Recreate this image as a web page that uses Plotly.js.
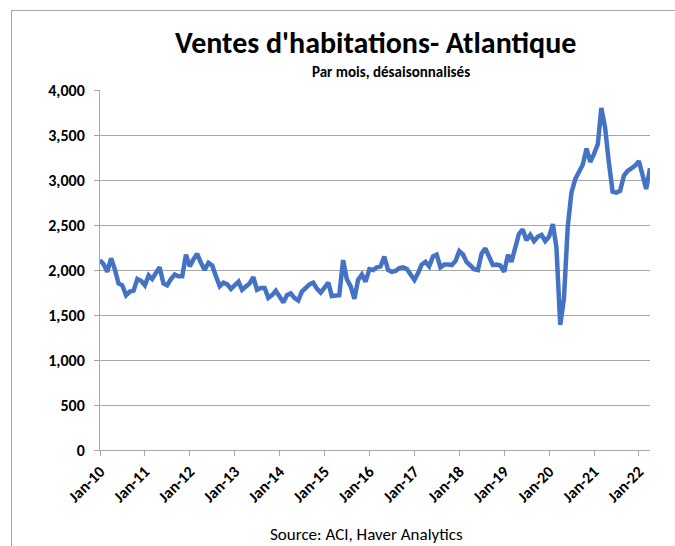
<!DOCTYPE html>
<html>
<head>
<meta charset="utf-8">
<script src="https://cdn.plot.ly/plotly-3.0.1.min.js"></script>
<style>
  html, body { margin: 0; padding: 0; background: #ffffff; }
  #wrap { position: relative; width: 675px; height: 546px; overflow: hidden; }
  #chart { position: absolute; left: 0; top: 0; width: 675px; height: 546px; }
  #frame { position: absolute; left: 11px; top: 10px; width: 700px; height: 600px;
           border-left: 1px solid #a6a6a6; border-top: 1px solid #a6a6a6; pointer-events: none; }
</style>
</head>
<body>
<div id="wrap">
  <div id="chart"></div>
  <div id="frame"></div>
</div>
<script>
// Monthly home sales, seasonally adjusted (Atlantic), Jan-2010 .. Apr-2022
const startYear = 2010;
const sales2010 = [2110, 2060, 1980, 2130, 2010, 1850, 1830, 1720, 1760, 1770, 1900, 1880];
const sales2011 = [1830, 1940, 1900, 1960, 2030, 1850, 1830, 1900, 1950, 1930, 1930, 2170];
const sales2012 = [2040, 2120, 2180, 2080, 2000, 2080, 2050, 1930, 1820, 1860, 1840, 1790];
const sales2013 = [1830, 1870, 1780, 1810, 1850, 1920, 1780, 1800, 1800, 1690, 1720, 1770];
const sales2014 = [1700, 1640, 1720, 1740, 1690, 1660, 1760, 1800, 1840, 1860, 1790, 1750];
const sales2015 = [1800, 1860, 1710, 1720, 1720, 2110, 1900, 1820, 1680, 1890, 1950, 1870];
const sales2016 = [2010, 2000, 2030, 2040, 2150, 2000, 1980, 1990, 2020, 2030, 2010, 1950];
const sales2017 = [1890, 1970, 2060, 2090, 2040, 2150, 2170, 2030, 2060, 2060, 2055, 2100];
const sales2018 = [2210, 2170, 2090, 2050, 2010, 2000, 2180, 2240, 2130, 2055, 2060, 2050];
const sales2019 = [1980, 2170, 2090, 2250, 2400, 2450, 2330, 2390, 2320, 2370, 2390, 2320];
const sales2020 = [2370, 2510, 2250, 1390, 1680, 2480, 2860, 3010, 3080, 3170, 3350, 3200];
const sales2021 = [3290, 3400, 3800, 3580, 3200, 2870, 2860, 2880, 3050, 3100, 3130, 3160];
const sales2022 = [3210, 3050, 2900, 3130];

const tickLabels = ['Jan-10','Jan-11','Jan-12','Jan-13','Jan-14','Jan-15','Jan-16',
                    'Jan-17','Jan-18','Jan-19','Jan-20','Jan-21','Jan-22'];
const yTicks = [0, 500, 1000, 1500, 2000, 2500, 3000, 3500, 4000];

const yearly = [sales2010, sales2011, sales2012, sales2013, sales2014, sales2015, sales2016,
                sales2017, sales2018, sales2019, sales2020, sales2021, sales2022];
const dates = [], values = [];
yearly.forEach((arr, yi) => {
  arr.forEach((v, mi) => {
    const mm = String(mi + 1).padStart(2, '0');
    dates.push((startYear + yi) + '-' + mm + '-01');
    values.push(v);
  });
});
const tickVals = tickLabels.map((t, i) => (startYear + i) + '-01-01');

const FONT = 'Carlito, Calibri, Lato, sans-serif';
const GRID = '#a6a6a6';

const trace = {
  x: dates, y: values, type: 'scatter', mode: 'lines',
  line: { color: '#4472C4', width: 4.5 }, hoverinfo: 'x+y'
};

const layout = {
  width: 675, height: 546,
  margin: { l: 100, r: 25, t: 90, b: 96 },
  paper_bgcolor: '#ffffff', plot_bgcolor: '#ffffff',
  showlegend: false,
  font: { family: FONT, color: '#000000', size: 16 },
  xaxis: {
    type: 'date',
    range: [dates[0], dates[dates.length - 1]],
    tickmode: 'array', tickvals: tickVals, ticktext: tickLabels,
    tickangle: -45,
    tickfont: { family: FONT, size: 16, weight: 'bold', color: '#000' },
    showgrid: false, zeroline: false,
    showline: true, linecolor: GRID, linewidth: 1,
    ticks: 'outside', ticklen: 5, tickcolor: GRID, tickwidth: 1
  },
  yaxis: {
    range: [0, 4000],
    tickmode: 'array', tickvals: yTicks,
    tickformat: ',d',
    tickfont: { family: FONT, size: 16, weight: 'bold', color: '#000' },
    ticklabelstandoff: 6,
    showgrid: true, gridcolor: GRID, gridwidth: 1,
    zeroline: false,
    showline: true, linecolor: GRID, linewidth: 1,
    ticks: 'outside', ticklen: 5, tickcolor: GRID, tickwidth: 1
  },
  annotations: [
    { text: "Ventes d'habitations- Atlantique", xref: 'paper', yref: 'paper',
      x: 0.5, y: 1.133, xanchor: 'center', yanchor: 'middle', showarrow: false,
      font: { family: FONT, size: 30, weight: 'bold', color: '#000' } },
    { text: 'Par mois, désaisonnalisés', xref: 'paper', yref: 'paper',
      x: 0.529, y: 1.05, xanchor: 'center', yanchor: 'middle', showarrow: false,
      font: { family: FONT, size: 15, weight: 'bold', color: '#000' } },
    { text: 'Source: ACI, Haver Analytics', xref: 'paper', yref: 'paper',
      x: 0.484, y: -0.234, xanchor: 'center', yanchor: 'middle', showarrow: false,
      font: { family: FONT, size: 17, color: '#000' } }
  ]
};

Plotly.newPlot('chart', [trace], layout, { displayModeBar: false, staticPlot: true });
</script>
</body>
</html>
